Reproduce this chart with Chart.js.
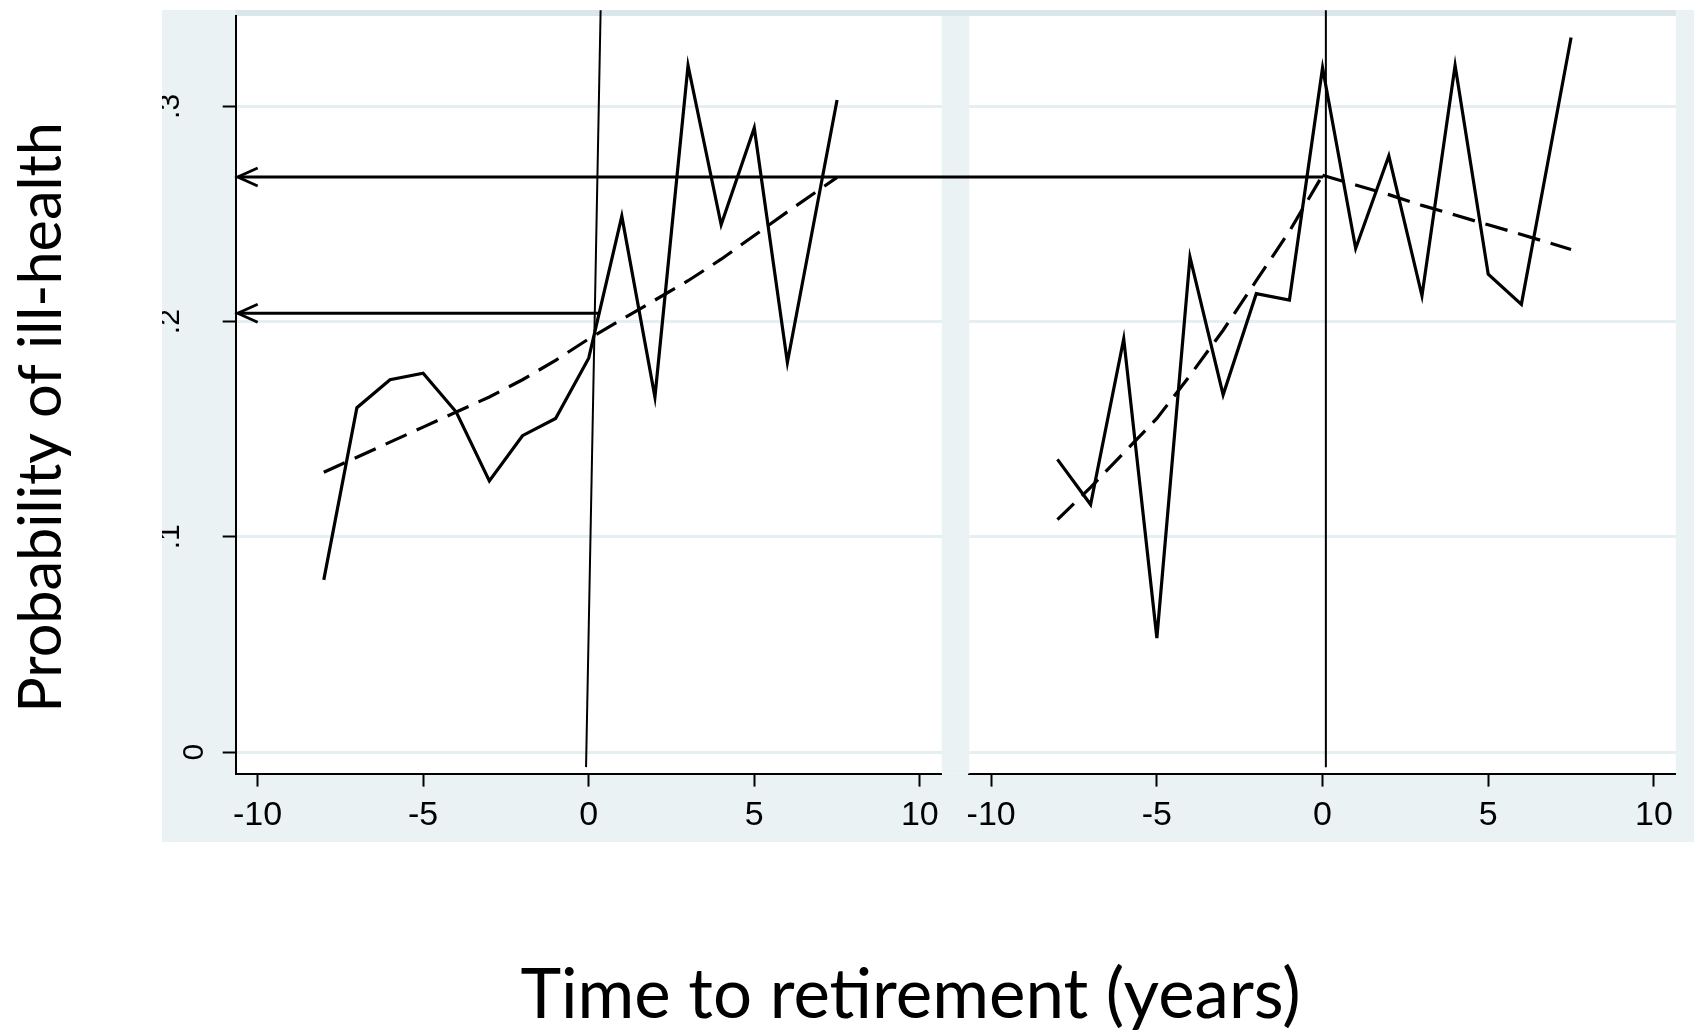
<!DOCTYPE html>
<html>
<head>
<meta charset="utf-8">
<title>Probability of ill-health around retirement</title>
<script src="https://cdn.jsdelivr.net/npm/chart.js"></script>
<style>
  html, body { margin: 0; padding: 0; background: #ffffff; }
  #chart { display: block; }
</style>
</head>
<body>
<canvas id="chart" width="1694" height="1030"></canvas>
<script>
// --- Values ---
const years = [-8, -7, -6, -5, -4, -3, -2, -1, 0, 1, 2, 3, 4, 5, 6, 7.5];
const leftObserved = [0.080, 0.160, 0.173, 0.176, 0.158, 0.126, 0.147, 0.155, 0.183, 0.249, 0.165, 0.319, 0.245, 0.290, 0.181, 0.303];
const leftFitted = [0.130, 0.137, 0.144, 0.151, 0.158, 0.165, 0.173, 0.182, 0.192, 0.201, 0.210, 0.219, 0.229, 0.240, 0.251, 0.267];
const rightObserved = [0.136, 0.115, 0.192, 0.053, 0.230, 0.166, 0.213, 0.210, 0.318, 0.234, 0.277, 0.212, 0.319, 0.222, 0.208, 0.332];

const preYears = [-8, -7, -6, -5, -4, -3, -2, -1, 0];
const rightFittedPre = [0.108, 0.123, 0.139, 0.155, 0.175, 0.196, 0.219, 0.242, 0.268];
const postYears = [0, 1, 2, 3, 4, 5, 6, 7.5];
const rightFittedPost = [0.268, 0.2635, 0.259, 0.254, 0.2495, 0.245, 0.2405, 0.2335];

// retirement markers (hand drawn, the left one leans a little)
const markerY = [-0.007, 0.3447];
const leftMarkerX = [-0.08, 0.36];
const rightMarkerX = [0.1, 0.1];

// arrows pointing back to the y axis of the left panel
const arrowY = [0.2672, 0.2039];
const arrowFromAxis = ['x2', 'x'];
const arrowFromX = [0.02, 0.29];
const arrowToX = [-10.6, -10.6];

// ticks
const xTicks = [-10, -5, 0, 5, 10];
const xTickLabels = ['-10', '-5', '0', '5', '10'];
const yTicks = [0, 0.1, 0.2, 0.3];
const yTickLabels = ['0', '.1', '.2', '.3'];

const yTitle = 'Probability of ill-health';
const xTitle = 'Time to retirement (years)';

// --- Look ---
const BG = '#eaf2f3';
const TOP_STRIP = '#dbe6eb';
const GRID = '#e5eef0';
const INK = '#000000';
const TICK_FONT = '"Liberation Sans", Arial, sans-serif';
const TITLE_FONT = 'Lato, "Open Sans", sans-serif';

const frame = { left: 162, top: 10, bottom: 842 };   // bluish-grey graph region
const yAxisWidth = 73.7;
const xAxisHeight = 68.4;

function lineSet(label, xAxisID, xs, ys, extra) {
    return Object.assign({
        label: label,
        xAxisID: xAxisID,
        yAxisID: 'y',
        data: xs.map((x, i) => ({ x: x, y: ys[i] })),
        borderColor: INK,
        borderWidth: 3.2,
        pointRadius: 0,
        tension: 0,
        fill: false
    }, extra || {});
}

const dashed = { borderDash: [23, 11] };
const marker = { borderWidth: 2, clip: false };

/**
 * Grey graph region, white plot region and the gap between the two panels.
 */
const backdropPlugin = {
    id: 'backdrop',
    beforeDraw(chart) {
        const { ctx, chartArea } = chart;
        ctx.save();
        ctx.fillStyle = BG;
        ctx.fillRect(frame.left, frame.top, chart.width - frame.left, frame.bottom - frame.top);
        ctx.fillStyle = TOP_STRIP;
        ctx.fillRect(chartArea.left, frame.top, chartArea.right - chartArea.left, chartArea.top - frame.top);
        ctx.fillStyle = '#ffffff';
        ctx.fillRect(chartArea.left, chartArea.top, chartArea.right - chartArea.left, chartArea.bottom - chartArea.top);
        ctx.restore();
    },
    beforeDatasetsDraw(chart) {
        // cover the grid lines between the panels
        const { ctx, chartArea } = chart;
        const gap = chart.scales.gap;
        ctx.save();
        ctx.fillStyle = BG;
        ctx.fillRect(gap.left, chartArea.top, gap.right - gap.left, chartArea.bottom - chartArea.top);
        ctx.restore();
    }
};

/**
 * Horizontal arrows with an open head at the y axis.
 */
const arrowPlugin = {
    id: 'arrows',
    afterDatasetsDraw(chart) {
        const { ctx, scales } = chart;
        ctx.save();
        ctx.strokeStyle = INK;
        ctx.lineWidth = 2.8;
        arrowY.forEach((value, i) => {
            const y = scales.y.getPixelForValue(value);
            const x0 = scales[arrowFromAxis[i]].getPixelForValue(arrowFromX[i]);
            const x1 = scales.x.getPixelForValue(arrowToX[i]);
            ctx.beginPath();
            ctx.moveTo(x0, y);
            ctx.lineTo(x1, y);
            ctx.stroke();
            ctx.beginPath();
            ctx.moveTo(x1 + 20, y - 9);
            ctx.lineTo(x1, y);
            ctx.lineTo(x1 + 20, y + 9);
            ctx.stroke();
        });
        ctx.restore();
    }
};

// font size that makes the text as wide as it is in the figure
function fittedFont(ctx, text, width) {
    ctx.font = '60px ' + TITLE_FONT;
    const size = 60 * width / ctx.measureText(text).width;
    return size.toFixed(1) + 'px ' + TITLE_FONT;
}

/**
 * The two big axis titles added on top of the graph.
 */
const titlesPlugin = {
    id: 'outerTitles',
    afterDraw(chart) {
        const ctx = chart.ctx;
        ctx.save();
        ctx.fillStyle = INK;
        ctx.textAlign = 'center';
        ctx.textBaseline = 'alphabetic';

        ctx.font = fittedFont(ctx, xTitle, 780);
        ctx.fillText(xTitle, 910.5, 1018);

        ctx.font = fittedFont(ctx, yTitle, 591);
        ctx.translate(61, 417.5);
        ctx.rotate(-Math.PI / 2);
        ctx.fillText(yTitle, 0, 0);
        ctx.restore();
    }
};

// keep the plot region where the figure has it: no extra room for edge labels
function noEdgePadding(scale) {
    scale.paddingTop = 0;
    scale.paddingBottom = 0;
    scale.paddingLeft = 0;
    scale.paddingRight = 0;
}

function panelAxis(weight) {
    return {
        type: 'linear',
        position: 'bottom',
        stack: 'panels',
        stackWeight: weight,
        min: -10.66,
        max: 10.66,
        afterBuildTicks: (scale) => { scale.ticks = xTicks.map(v => ({ value: v })); },
        afterFit: (scale) => {
            scale.height = xAxisHeight;
            noEdgePadding(scale);
        },
        grid: {
            display: true,
            drawOnChartArea: false,
            tickLength: 13,
            tickColor: INK,
            tickWidth: 2
        },
        border: { display: true, color: INK, width: 2 },
        ticks: {
            color: INK,
            padding: 9,
            autoSkip: false,
            maxRotation: 0,
            font: { family: TICK_FONT, size: 34 },
            callback: (value, index) => xTickLabels[index]
        }
    };
}

new Chart(document.getElementById('chart'), {
    type: 'line',
    data: {
        datasets: [
            lineSet('Ill-health, panel 1', 'x', years, leftObserved),
            lineSet('Fitted, panel 1', 'x', years, leftFitted, dashed),
            lineSet('Ill-health, panel 2', 'x2', years, rightObserved),
            lineSet('Fitted before retirement, panel 2', 'x2', preYears, rightFittedPre, dashed),
            lineSet('Fitted after retirement, panel 2', 'x2', postYears, rightFittedPost, dashed),
            lineSet('Retirement, panel 1', 'x', leftMarkerX, markerY, marker),
            lineSet('Retirement, panel 2', 'x2', rightMarkerX, markerY, marker)
        ]
    },
    options: {
        responsive: false,
        devicePixelRatio: 1,
        animation: false,
        events: [],
        layout: {
            autoPadding: false,
            padding: { left: frame.left, right: 18.2, top: 16, bottom: 1030 - frame.bottom }
        },
        plugins: {
            legend: { display: false },
            title: { display: false },
            tooltip: { enabled: false }
        },
        scales: {
            x: panelAxis(706),
            gap: {
                type: 'linear',
                position: 'bottom',
                stack: 'panels',
                stackWeight: 27.6,
                afterFit: (scale) => {
                    scale.height = xAxisHeight;
                    noEdgePadding(scale);
                },
                grid: { display: false },
                border: { display: false },
                ticks: { display: false }
            },
            x2: panelAxis(706.5),
            y: {
                type: 'linear',
                position: 'left',
                min: -0.01,
                max: 0.342,
                afterBuildTicks: (scale) => { scale.ticks = yTicks.map(v => ({ value: v })); },
                afterFit: (scale) => {
                    scale.width = yAxisWidth;
                    noEdgePadding(scale);
                },
                grid: {
                    color: GRID,
                    lineWidth: 3,
                    tickLength: 13,
                    tickColor: INK,
                    tickWidth: 2
                },
                border: { display: true, color: INK, width: 2 },
                ticks: {
                    color: INK,
                    autoSkip: false,
                    minRotation: 90,
                    maxRotation: 90,
                    crossAlign: 'center',
                    padding: 27.5,
                    font: { family: TICK_FONT, size: 30, lineHeight: 0.817 },
                    // Stata sets the single digit label nearer to the axis
                    callback: (value, index) => {
                        const label = yTickLabels[index];
                        return label.length === 1 ? ['', label] : [label, ''];
                    }
                }
            }
        }
    },
    plugins: [backdropPlugin, arrowPlugin, titlesPlugin]
});
</script>
</body>
</html>
